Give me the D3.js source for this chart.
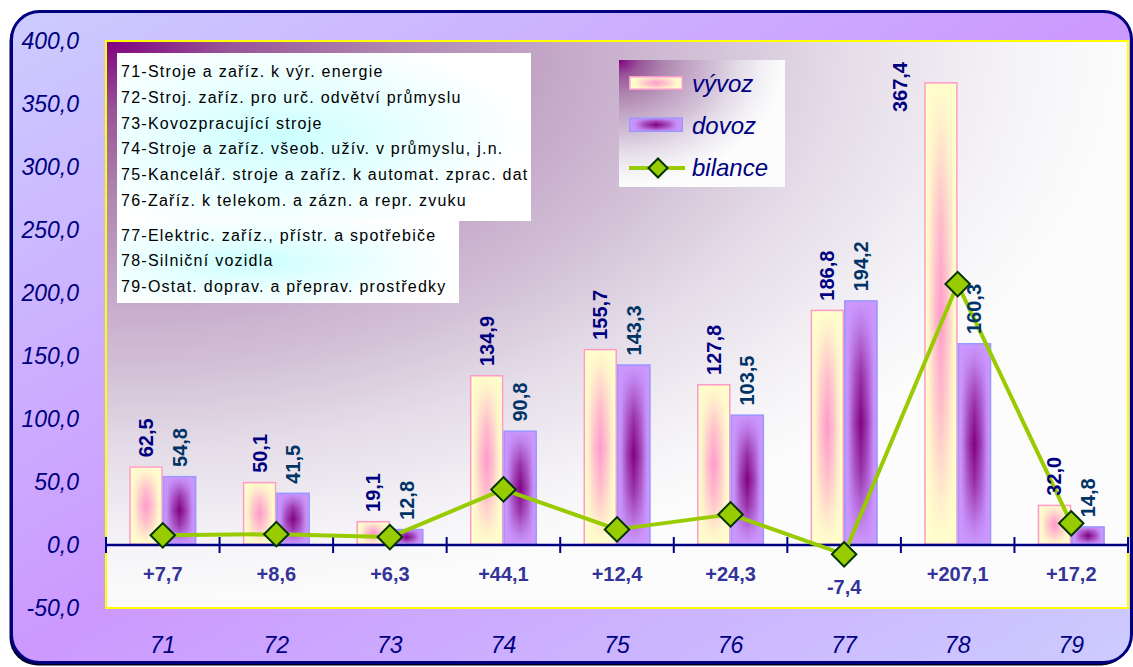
<!DOCTYPE html>
<html>
<head>
<meta charset="utf-8">
<script src="https://cdn.jsdelivr.net/npm/d3@7"></script>
<style>
  html, body { margin: 0; padding: 0; background: #ffffff; }
  svg { display: block; }
  text { font-family: "Liberation Sans", Arial, sans-serif; }
</style>
</head>
<body>
<svg id="chart" width="1133" height="667"></svg>
<script>
// ---- data ----
const categories = ["71", "72", "73", "74", "75", "76", "77", "78", "79"];
const vyvoz   = [62.5, 50.1, 19.1, 134.9, 155.7, 127.8, 186.8, 367.4, 32.0];
const dovoz   = [54.8, 41.5, 12.8, 90.8, 143.3, 103.5, 194.2, 160.3, 14.8];
const bilance = [7.7, 8.6, 6.3, 44.1, 12.4, 24.3, -7.4, 207.1, 17.2];
const yTicks  = [-50, 0, 50, 100, 150, 200, 250, 300, 350, 400];
const seriesNames = ["vývoz", "dovoz", "bilance"];
const noteLines1 = [
  "71-Stroje a zaříz. k výr. energie",
  "72-Stroj. zaříz. pro urč. odvětví průmyslu",
  "73-Kovozpracující stroje",
  "74-Stroje a zaříz. všeob. užív. v průmyslu, j.n.",
  "75-Kancelář. stroje a zaříz. k automat. zprac. dat",
  "76-Zaříz. k telekom. a zázn. a repr. zvuku"
];
const noteLines2 = [
  "77-Elektric. zaříz., přístr. a spotřebiče",
  "78-Silniční vozidla",
  "79-Ostat. doprav. a přeprav. prostředky"
];

// ---- layout ----
const svg = d3.select("#chart");
const plot = { left: 106, right: 1128, top: 41, bottom: 608 };
const NAVY = "#000080";

const x = d3.scaleBand().domain(categories).range([plot.left, plot.right]).paddingInner(0).paddingOuter(0);
const y = d3.scaleLinear().domain([-50, 400]).range([plot.bottom, plot.top]);
const barW = x.bandwidth() * 0.295;
const fmt = v => d3.format(".1f")(v).replace(".", ",").replace("\u2212", "-");
const fmtSigned = v => (v > 0 ? "+" : "") + fmt(v);

// ---- defs ----
const defs = svg.append("defs");
function lin(id, x2, y2, stops) {
  const g = defs.append("linearGradient").attr("id", id)
    .attr("x1", 0).attr("y1", 0).attr("x2", x2).attr("y2", y2);
  stops.forEach(s => g.append("stop").attr("offset", s[0]).attr("stop-color", s[1])
    .attr("stop-opacity", s[2] === undefined ? 1 : s[2]));
}
function rad(id, cx, cy, r, stops) {
  const g = defs.append("radialGradient").attr("id", id)
    .attr("cx", cx).attr("cy", cy).attr("r", r).attr("fx", cx).attr("fy", cy);
  stops.forEach(s => g.append("stop").attr("offset", s[0]).attr("stop-color", s[1])
    .attr("stop-opacity", s[2] === undefined ? 1 : s[2]));
}
lin("frameGrad", 1, 1, [[0, "#ccccff"], [0.5, "#cc99ff"], [1, "#ccccff"]]);
rad("plotGrad", 0, 0, 1, [
  [0, "#800080"], [0.12, "#985498"], [0.28, "#b088b0"], [0.44, "#c4a8c8"],
  [0.58, "#d2c0d6"], [0.72, "#e4dce8"], [0.88, "#f4f2f6"], [1, "#fcfcfc"]]);
rad("boxGrad", 0.4, 0.5, 0.6, [[0, "#ccffff"], [0.55, "#eaffff"], [1, "#ffffff"]]);
const hStops = c => [[0, c, 0], [0.12, c, 0.08], [0.3, c, 0.6], [0.5, c, 1], [0.7, c, 0.6], [0.88, c, 0.08], [1, c, 0]];
lin("pinkH", 1, 0, hStops("#ff99cc"));
lin("purpH", 1, 0, hStops("#800080"));
lin("maskV", 0, 1, [[0, "#000000"], [0.1, "#303030"], [0.3, "#b0b0b0"], [0.5, "#ffffff"], [0.7, "#b0b0b0"], [0.9, "#303030"], [1, "#000000"]]);
defs.append("mask").attr("id", "mV").attr("maskContentUnits", "objectBoundingBox")
  .append("rect").attr("x", 0).attr("y", 0).attr("width", 1).attr("height", 1).attr("fill", "url(#maskV)");

// ---- frame ----
svg.append("rect").attr("x", 9.5).attr("y", 13.5).attr("width", 1120).attr("height", 652)
  .attr("rx", 28).attr("fill", "#000022");
svg.append("rect").attr("x", 11.5).attr("y", 11.5).attr("width", 1120).attr("height", 651)
  .attr("rx", 28).attr("fill", "url(#frameGrad)").attr("stroke", NAVY).attr("stroke-width", 3);

// ---- plot area ----
svg.append("rect").attr("x", plot.left).attr("y", plot.top)
  .attr("width", plot.right - plot.left).attr("height", plot.bottom - plot.top)
  .attr("fill", "url(#plotGrad)").attr("stroke", "#ffff00").attr("stroke-width", 2);

// ---- note boxes ----
const notes = svg.append("g");
notes.append("rect").attr("x", 117).attr("y", 53).attr("width", 414).attr("height", 168).attr("fill", "url(#boxGrad)");
notes.append("rect").attr("x", 117).attr("y", 221).attr("width", 342).attr("height", 82).attr("fill", "url(#boxGrad)");
notes.selectAll("text.n1").data(noteLines1).join("text").attr("class", "n1")
  .attr("x", 121).attr("y", (d, i) => 71.5 + i * 25.7).attr("dy", "0.35em")
  .attr("font-size", 16).attr("letter-spacing", 1.25).attr("fill", "#000000").text(d => d);
notes.selectAll("text.n2").data(noteLines2).join("text").attr("class", "n2")
  .attr("x", 121).attr("y", (d, i) => 235 + i * 25.7).attr("dy", "0.35em")
  .attr("font-size", 16).attr("letter-spacing", 1.25).attr("fill", "#000000").text(d => d);

// ---- bars ----
function drawBar(g, bx, by, bw, bh, base, over, border) {
  g.append("rect").attr("x", bx).attr("y", by).attr("width", bw).attr("height", bh).attr("fill", base);
  g.append("rect").attr("x", bx).attr("y", by).attr("width", bw).attr("height", bh)
    .attr("fill", over).attr("mask", "url(#mV)");
  g.append("rect").attr("x", bx + 0.75).attr("y", by + 0.75).attr("width", Math.max(0, bw - 1.5))
    .attr("height", Math.max(0, bh - 1.5)).attr("fill", "none").attr("stroke", border).attr("stroke-width", 1.5);
}
const bars = svg.append("g");
categories.forEach((c, i) => {
  const cx = x(c) + x.bandwidth() / 2;
  drawBar(bars, cx - barW, y(vyvoz[i]), barW, y(0) - y(vyvoz[i]), "#ffffcc", "url(#pinkH)", "#ff99cc");
  drawBar(bars, cx, y(dovoz[i]), barW, y(0) - y(dovoz[i]), "#cc99ff", "url(#purpH)", "#9999ff");
});

// ---- legend ----
const lg = svg.append("g");
lg.append("rect").attr("x", 619).attr("y", 60).attr("width", 166).attr("height", 127).attr("fill", "url(#plotGrad)");
drawBar(lg, 629, 76, 54, 14, "#ffffcc", "url(#pinkH)", "#ff99cc");
drawBar(lg, 629, 117.5, 54, 14.5, "#cc99ff", "url(#purpH)", "#9999ff");
lg.append("line").attr("x1", 629).attr("x2", 685).attr("y1", 168).attr("y2", 168)
  .attr("stroke", "#99cc00").attr("stroke-width", 4);
lg.append("path").attr("d", d3.symbol(d3.symbolSquare, 180)())
  .attr("transform", "translate(658,168) rotate(45)")
  .attr("fill", "#99cc00").attr("stroke", "#003300").attr("stroke-width", 2);
lg.selectAll("text").data(seriesNames).join("text")
  .attr("x", 692).attr("y", (d, i) => [84, 126, 168][i]).attr("dy", "0.35em")
  .attr("font-size", 24).attr("font-style", "italic").attr("fill", NAVY).text(d => d);

// ---- x axis ----
const ax = svg.append("g");
ax.append("line").attr("x1", plot.left).attr("x2", plot.right).attr("y1", y(0)).attr("y2", y(0))
  .attr("stroke", NAVY).attr("stroke-width", 2.5);
const bounds = categories.map(c => x(c)).concat([x(categories[categories.length - 1]) + x.bandwidth()]);
ax.selectAll("line.tk").data(bounds).join("line").attr("class", "tk")
  .attr("x1", d => d).attr("x2", d => d).attr("y1", y(0) - 8).attr("y2", y(0) + 8)
  .attr("stroke", NAVY).attr("stroke-width", 2);
ax.selectAll("text.cat").data(categories).join("text").attr("class", "cat")
  .attr("x", d => x(d) + x.bandwidth() / 2).attr("y", 645).attr("dy", "0.35em")
  .attr("text-anchor", "middle").attr("font-size", 23).attr("font-style", "italic")
  .attr("fill", NAVY).text(d => d);

// ---- y axis labels ----
svg.append("g").selectAll("text").data(yTicks).join("text")
  .attr("x", 79).attr("y", d => y(d)).attr("dy", "0.35em").attr("text-anchor", "end")
  .attr("font-size", 23).attr("font-style", "italic").attr("fill", NAVY).text(d => fmt(d));

// ---- bilance line ----
const line = d3.line().x((d, i) => x(categories[i]) + x.bandwidth() / 2).y(d => y(d));
svg.append("path").datum(bilance).attr("d", line).attr("fill", "none")
  .attr("stroke", "#99cc00").attr("stroke-width", 4).attr("stroke-linejoin", "round");
svg.append("g").selectAll("path").data(bilance).join("path")
  .attr("d", d3.symbol(d3.symbolSquare, 300)())
  .attr("transform", (d, i) => `translate(${x(categories[i]) + x.bandwidth() / 2},${y(d)}) rotate(45)`)
  .attr("fill", "#99cc00").attr("stroke", "#003300").attr("stroke-width", 2);

// ---- bar value labels ----
const lbl = svg.append("g").attr("font-size", 20).attr("font-weight", "bold");
const labelLen = 52;
categories.forEach((c, i) => {
  const cx = x(c) + x.bandwidth() / 2;
  [[vyvoz[i], cx - barW / 2, NAVY, cx - barW], [dovoz[i], cx + barW / 2, "#003366", cx]].forEach(([v, lx, col, left]) => {
    let px = lx, py = y(v) - 9;
    if (py - labelLen < plot.top) { px = left - 24; py = y(v) + 30; }
    lbl.append("text").attr("transform", `translate(${px},${py}) rotate(-90)`)
      .attr("dy", "0.35em").attr("fill", col).text(fmt(v));
  });
});

// ---- bilance labels ----
svg.append("g").selectAll("text").data(bilance).join("text")
  .attr("x", (d, i) => x(categories[i]) + x.bandwidth() / 2)
  .attr("y", d => Math.max(574, y(d) + 33)).attr("dy", "0.35em")
  .attr("text-anchor", "middle").attr("font-size", 20).attr("font-weight", "bold")
  .attr("fill", "#333399").text(d => fmtSigned(d));
</script>
</body>
</html>
